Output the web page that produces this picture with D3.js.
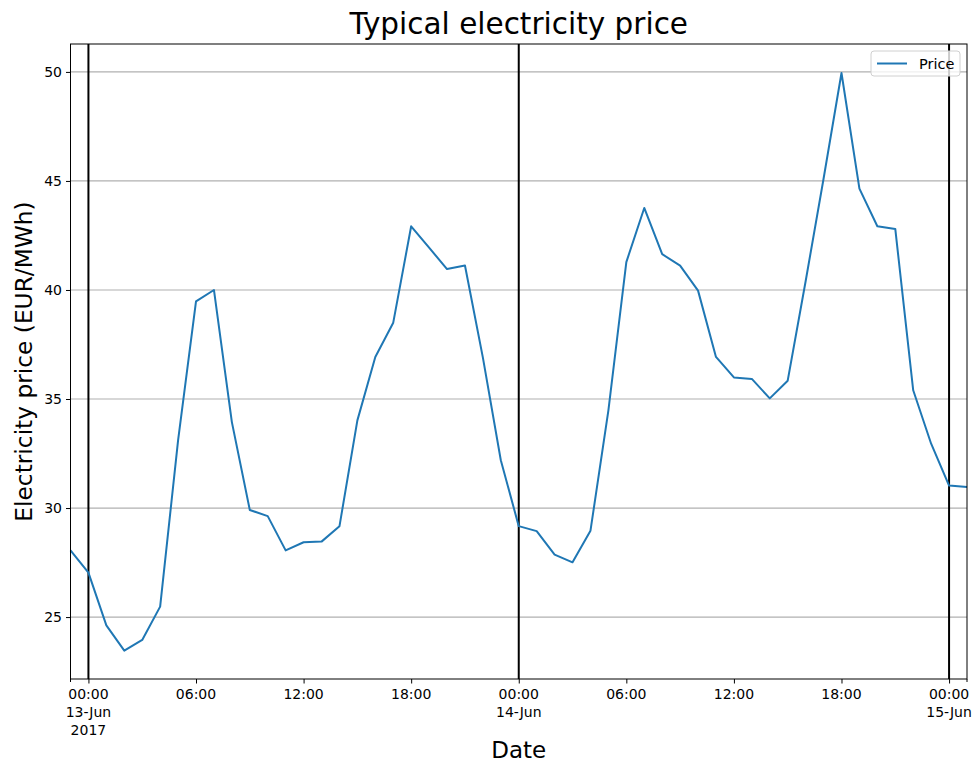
<!DOCTYPE html>
<html>
<head>
<meta charset="utf-8">
<script src="https://cdn.jsdelivr.net/npm/d3@7"></script>
<style>
  body { margin: 0; background: #fff; }
  svg { font-family: "DejaVu Sans", sans-serif; }
</style>
</head>
<body>
<div id="chart"></div>
<script>
// hourly prices, 12-Jun 23:00 .. 15-Jun 00:00 (UTC)
const startTime = new Date(Date.UTC(2017, 5, 12, 23));
const prices = [
  28.06, 27.04, 24.62, 23.46, 23.95, 25.48, 33.1, 39.48, 40.0, 33.94,
  29.91, 29.63, 28.06, 28.43, 28.46, 29.16, 34.02, 36.93, 38.5, 42.92,
  41.94, 40.96, 41.12, 36.9, 32.19, 29.17, 28.94, 27.86, 27.51, 28.96,
  34.48, 41.28, 43.76, 41.64, 41.12, 39.97, 36.93, 35.99, 35.92, 35.03,
  35.84, 40.4, 45.1, 49.95, 44.65, 42.92, 42.8, 35.4, 32.95, 31.03, 30.96
];
const dayMarks = ['2017-06-13T00:00Z', '2017-06-14T00:00Z', '2017-06-15T00:00Z'];
const yTicks = [25, 30, 35, 40, 45, 50];
const xTickLabels = [
  ['00:00', '13-Jun', '2017'], ['06:00'], ['12:00'], ['18:00'],
  ['00:00', '14-Jun'], ['06:00'], ['12:00'], ['18:00'],
  ['00:00', '15-Jun']
];

const data = prices.map((v, i) => ({ t: d3.utcHour.offset(startTime, i), v }));

const W = 976, H = 764;
const margin = { top: 44, right: 9, bottom: 85, left: 70.5 };
const width = W - margin.left - margin.right;
const height = H - margin.top - margin.bottom;

const svg = d3.select('#chart').append('svg')
  .attr('width', W)
  .attr('height', H);

const g = svg.append('g')
  .attr('transform', `translate(${margin.left},${margin.top})`);

const x = d3.scaleUtc()
  .domain([startTime, d3.utcHour.offset(startTime, prices.length - 1)])
  .range([0, width]);

const y = d3.scaleLinear()
  .domain([22.16, 51.28])
  .range([height, 0]);

// horizontal grid
g.append('g')
  .selectAll('line')
  .data(yTicks)
  .enter()
  .append('line')
  .attr('x1', 0)
  .attr('x2', width)
  .attr('y1', d => y(d))
  .attr('y2', d => y(d))
  .attr('stroke', '#b0b0b0')
  .attr('stroke-width', 1.2);

// day separators
g.append('g')
  .selectAll('line')
  .data(dayMarks.map(d => new Date(d)))
  .enter()
  .append('line')
  .attr('x1', d => x(d))
  .attr('x2', d => x(d))
  .attr('y1', 0)
  .attr('y2', height)
  .attr('stroke', '#000')
  .attr('stroke-width', 2);

// price line
const line = d3.line()
  .x(d => x(d.t))
  .y(d => y(d.v));

g.append('path')
  .datum(data)
  .attr('fill', 'none')
  .attr('stroke', '#1f77b4')
  .attr('stroke-width', 2)
  .attr('stroke-linejoin', 'round')
  .attr('d', line);

// frame
g.append('rect')
  .attr('width', width)
  .attr('height', height)
  .attr('fill', 'none')
  .attr('stroke', '#000')
  .attr('stroke-width', 1);

// y axis
const yAxis = g.append('g')
  .call(d3.axisLeft(y).tickValues(yTicks).tickSize(4.5).tickPadding(4));
yAxis.select('.domain').remove();
yAxis.selectAll('text')
  .style('font-family', '"DejaVu Sans", sans-serif')
  .style('font-size', '14px')
  .attr('fill', '#000');

// x axis
const majorTimes = d3.utcHour.every(6).range(new Date(dayMarks[0]), d3.utcHour.offset(new Date(dayMarks[2]), 1));
const xAxis = g.append('g')
  .attr('transform', `translate(0,${height})`)
  .call(d3.axisBottom(x).tickValues(majorTimes).tickSize(4.5).tickFormat(''));
xAxis.select('.domain').remove();

// minor ticks at the edges
g.append('g')
  .attr('transform', `translate(0,${height})`)
  .selectAll('line')
  .data(x.domain())
  .enter()
  .append('line')
  .attr('x1', d => x(d))
  .attr('x2', d => x(d))
  .attr('y1', 0)
  .attr('y2', 3)
  .attr('stroke', '#000');

const xLabels = g.append('g')
  .attr('transform', `translate(0,${height})`)
  .selectAll('text')
  .data(majorTimes)
  .enter()
  .append('text')
  .attr('x', d => x(d))
  .attr('y', 19.5)
  .attr('text-anchor', 'middle')
  .style('font-size', '14px');

xLabels.each(function (d, i) {
  const parts = xTickLabels[i];
  d3.select(this).selectAll('tspan')
    .data(parts)
    .enter()
    .append('tspan')
    .attr('x', x(d))
    .attr('dy', (p, j) => j === 0 ? 0 : 18)
    .text(p => p);
});

// title and axis labels
svg.append('text')
  .attr('x', margin.left + width / 2)
  .attr('y', 34)
  .attr('text-anchor', 'middle')
  .style('font-size', '29.5px')
  .text('Typical electricity price');

svg.append('text')
  .attr('x', margin.left + width / 2)
  .attr('y', 758)
  .attr('text-anchor', 'middle')
  .style('font-size', '23px')
  .text('Date');

svg.append('text')
  .attr('transform', `translate(32,${margin.top + height / 2}) rotate(-90)`)
  .attr('text-anchor', 'middle')
  .style('font-size', '23.3px')
  .text('Electricity price (EUR/MWh)');

// legend
const legend = svg.append('g')
  .attr('transform', 'translate(871,51)');
legend.append('rect')
  .attr('width', 89)
  .attr('height', 25)
  .attr('rx', 3)
  .attr('fill', 'rgba(255,255,255,0.8)')
  .attr('stroke', '#d0d0d0');
legend.append('line')
  .attr('x1', 6)
  .attr('x2', 36)
  .attr('y1', 12.5)
  .attr('y2', 12.5)
  .attr('stroke', '#1f77b4')
  .attr('stroke-width', 2);
legend.append('text')
  .attr('x', 48)
  .attr('y', 18)
  .style('font-size', '14.5px')
  .text('Price');
</script>
</body>
</html>
